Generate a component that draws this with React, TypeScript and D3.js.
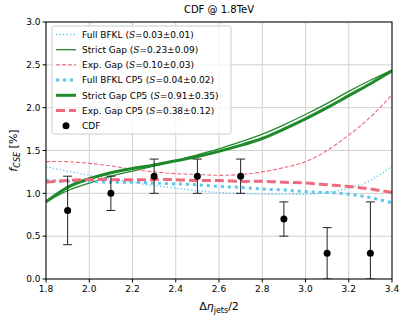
import * as d3 from 'd3';
import React from 'react';

const xs = [1.8, 1.9, 2.0, 2.1, 2.2, 2.3, 2.4, 2.5, 2.6, 2.7, 2.8, 2.9, 3.0, 3.1, 3.2, 3.3, 3.4];

const fullBfkl = [1.31, 1.26, 1.21, 1.17, 1.13, 1.09, 1.06, 1.03, 1.01, 1.0, 0.99, 0.99, 0.99, 1.01, 1.06, 1.15, 1.32];
const strictGap = [0.9, 1.03, 1.12, 1.2, 1.26, 1.32, 1.38, 1.45, 1.52, 1.6, 1.69, 1.8, 1.92, 2.05, 2.19, 2.32, 2.44];
const expGap = [1.37, 1.37, 1.35, 1.32, 1.28, 1.25, 1.23, 1.22, 1.21, 1.22, 1.25, 1.3, 1.37, 1.5, 1.68, 1.89, 2.15];
const fullBfklCp5 = [1.15, 1.14, 1.14, 1.13, 1.13, 1.12, 1.11, 1.1, 1.08, 1.07, 1.05, 1.04, 1.02, 1.01, 0.99, 0.95, 0.89];
const strictGapCp5 = [0.9, 1.07, 1.17, 1.24, 1.29, 1.33, 1.38, 1.43, 1.49, 1.56, 1.64, 1.75, 1.87, 2.0, 2.14, 2.28, 2.43];
const expGapCp5 = [1.13, 1.15, 1.16, 1.16, 1.16, 1.16, 1.16, 1.15, 1.15, 1.14, 1.14, 1.13, 1.12, 1.1, 1.08, 1.05, 1.01];

const cdfX = [1.9, 2.1, 2.3, 2.5, 2.7, 2.9, 3.1, 3.3];
const cdfY = [0.8, 1.0, 1.2, 1.2, 1.2, 0.7, 0.3, 0.3];
const cdfLo = [0.4, 0.8, 1.0, 1.0, 1.0, 0.5, 0.0, 0.0];
const cdfHi = [1.2, 1.2, 1.4, 1.4, 1.4, 0.9, 0.6, 0.9];

const xTicks = [1.8, 2.0, 2.2, 2.4, 2.6, 2.8, 3.0, 3.2, 3.4];
const yTicks = [0, 0.5, 1.0, 1.5, 2.0, 2.5, 3.0];

const BLUE = '#5ac8ee';
const GREEN = '#1f8a2a';
const PINK = '#ef6a7c';

const series = [
  { label: 'Full BFKL', s: '0.03±0.01', values: fullBfkl, color: BLUE, width: 1.3, dash: '1.3,2.2' },
  { label: 'Strict Gap', s: '0.23±0.09', values: strictGap, color: GREEN, width: 1.3, dash: null },
  { label: 'Exp. Gap', s: '0.10±0.03', values: expGap, color: PINK, width: 1.1, dash: '4,2' },
  { label: 'Full BFKL CP5', s: '0.04±0.02', values: fullBfklCp5, color: BLUE, width: 3, dash: '3,4' },
  { label: 'Strict Gap CP5', s: '0.91±0.35', values: strictGapCp5, color: GREEN, width: 3, dash: null },
  { label: 'Exp. Gap CP5', s: '0.38±0.12', values: expGapCp5, color: PINK, width: 3, dash: '9,4' },
];

export default function App() {
  const left = 46;
  const right = 392;
  const top = 22;
  const bottom = 279;
  const font = 'DejaVu Sans, sans-serif';

  const x = d3.scaleLinear().domain([1.8, 3.4]).range([left, right]);
  const y = d3.scaleLinear().domain([0, 3]).range([bottom, top]);

  const line = d3.line<number>()
    .x((d, i) => x(xs[i]))
    .y(d => y(d))
    .curve(d3.curveNatural);

  const legX = 52;
  const legY = 26;
  const rowH = 15.2;

  return (
    <svg width={407} height={322} style={{ position: 'absolute', left: 0, top: 0, background: '#fff' }}>
      <defs>
        <clipPath id="plot">
          <rect x={left} y={top} width={right - left} height={bottom - top} />
        </clipPath>
      </defs>
      {xTicks.map(t => (
        <line key={'gx' + t} x1={x(t)} x2={x(t)} y1={top} y2={bottom} stroke="#d0d0d0" strokeWidth={1} />
      ))}
      {yTicks.map(t => (
        <line key={'gy' + t} x1={left} x2={right} y1={y(t)} y2={y(t)} stroke="#d0d0d0" strokeWidth={1} />
      ))}

      <g clipPath="url(#plot)">
        {series.map(s => (
          <path key={s.label} d={line(s.values) || ''} fill="none" stroke={s.color}
            strokeWidth={s.width} strokeDasharray={s.dash || undefined} />
        ))}
        {cdfX.map((cx, i) => (
          <g key={'cdf' + i}>
            <line x1={x(cx)} x2={x(cx)} y1={y(cdfLo[i])} y2={y(cdfHi[i])} stroke="#222" strokeWidth={1} />
            <line x1={x(cx) - 4.5} x2={x(cx) + 4.5} y1={y(cdfHi[i])} y2={y(cdfHi[i])} stroke="#222" strokeWidth={1} />
            <line x1={x(cx) - 4.5} x2={x(cx) + 4.5} y1={y(cdfLo[i])} y2={y(cdfLo[i])} stroke="#222" strokeWidth={1} />
            <circle cx={x(cx)} cy={y(cdfY[i])} r={3.5} fill="#000" />
          </g>
        ))}
      </g>

      <rect x={left} y={top} width={right - left} height={bottom - top} fill="none" stroke="#000" strokeWidth={1} />

      {xTicks.map(t => (
        <g key={'xt' + t}>
          <line x1={x(t)} x2={x(t)} y1={bottom} y2={bottom + 3.5} stroke="#000" />
          <text x={x(t)} y={bottom + 13} fontSize={9} fontFamily={font} textAnchor="middle">{t.toFixed(1)}</text>
        </g>
      ))}
      {yTicks.map(t => (
        <g key={'yt' + t}>
          <line x1={left - 3.5} x2={left} y1={y(t)} y2={y(t)} stroke="#000" />
          <text x={left - 5.5} y={y(t) + 3.2} fontSize={9} fontFamily={font} textAnchor="end">{t.toFixed(1)}</text>
        </g>
      ))}

      <text x={(left + right) / 2} y={13} fontSize={10} fontFamily={font} textAnchor="middle">CDF @ 1.8TeV</text>
      <text x={(left + right) / 2} y={310} fontSize={11} fontFamily={font} textAnchor="middle">
        Δ<tspan fontStyle="italic">η</tspan><tspan fontSize={8} dy={3}>jets</tspan><tspan dy={-3}>/2</tspan>
      </text>
      <text transform={`translate(17, ${(top + bottom) / 2}) rotate(-90)`} fontSize={11} fontFamily={font} textAnchor="middle">
        <tspan fontStyle="italic">f</tspan><tspan fontSize={8} dy={3} fontStyle="italic">CSE</tspan><tspan dy={-3}> [%]</tspan>
      </text>

      <rect x={legX} y={legY} width={179} height={108} rx={2} fill="#fff" fillOpacity={0.8} stroke="#ccc" strokeWidth={1} />
      {series.map((s, i) => {
        const ry = legY + 8.5 + i * rowH;
        return (
          <g key={'leg' + s.label}>
            <line x1={legX + 4} x2={legX + 24} y1={ry} y2={ry} stroke={s.color} strokeWidth={s.width}
              strokeDasharray={s.dash || undefined} />
            <text x={legX + 30} y={ry + 3.2} fontSize={9} fontFamily={font}>
              {s.label} (<tspan fontStyle="italic" fontFamily="DejaVu Serif, serif">S</tspan>={s.s})
            </text>
          </g>
        );
      })}
      <circle cx={legX + 14} cy={legY + 8.5 + 6 * rowH} r={3.5} fill="#000" />
      <text x={legX + 30} y={legY + 8.5 + 6 * rowH + 3.2} fontSize={9} fontFamily={font}>CDF</text>
    </svg>
  );
}
